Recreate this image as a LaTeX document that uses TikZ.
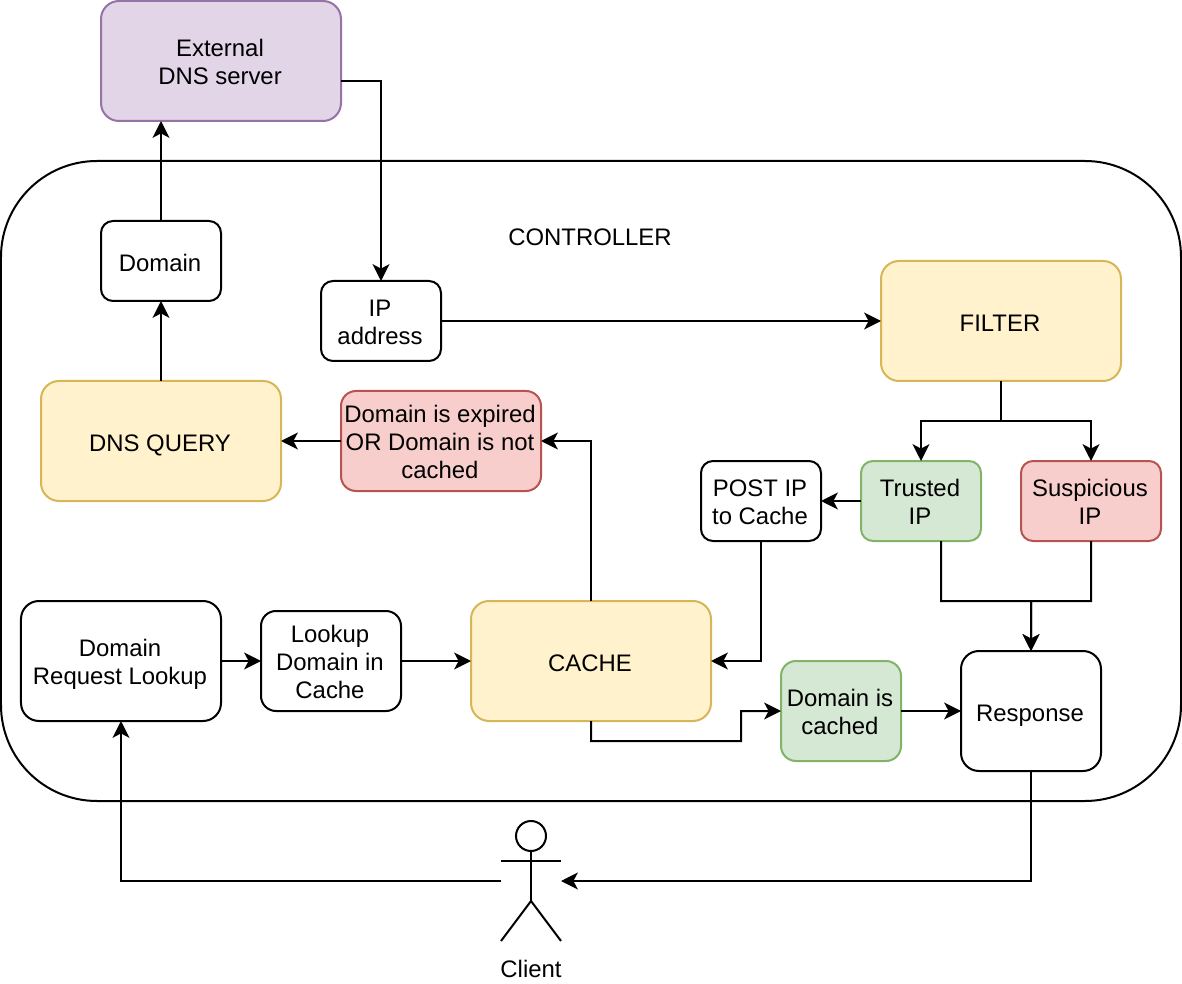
\documentclass[tikz,border=0pt]{standalone}
\usepackage{fontspec}
\setmainfont{Liberation Sans}
\usetikzlibrary{arrows.meta}
\definecolor{yfill}{HTML}{FFF2CC}
\definecolor{yline}{HTML}{D6B656}
\definecolor{gfill}{HTML}{D5E8D4}
\definecolor{gline}{HTML}{82B366}
\definecolor{rfill}{HTML}{F8CECC}
\definecolor{rline}{HTML}{B85450}
\definecolor{pfill}{HTML}{E1D5E7}
\definecolor{pline}{HTML}{9673A6}
\newcommand{\fstl}{\rule{0pt}{18.1pt}}
\tikzset{
    every node/.style={font=\fontsize{17}{19.9}\selectfont, align=center, inner sep=0pt, outer sep=0pt},
    every path/.style={line width=0.05cm},
    >={Stealth[length=0.42cm,width=0.42cm,inset=0.11cm]},
    txt/.style={execute at begin node={\rule{0pt}{18.8pt}}, execute at end node={\rule[-4pt]{0pt}{4pt}\kern0.05cm}},
    block/.style={draw, txt, minimum width=#1},
    block/.default=3cm,
    hsmall/.style={minimum height=2cm, rounded corners=0.3cm},
    hmid/.style={minimum height=2.5cm, rounded corners=0.375cm},
    hbig/.style={minimum height=3cm, rounded corners=0.45cm},
    plain/.style={block=#1, fill=white},
    plain/.default=3cm,
    yellow/.style={block=6cm, hbig, draw=yline, fill=yfill},
    green/.style={block=3cm, draw=gline, fill=gfill},
    red/.style={block=#1, draw=rline, fill=rfill},
    red/.default=3cm,
}

\begin{document}
\begin{tikzpicture}
    \useasboundingbox (0,0) rectangle (29.55,-24.6);

    \node[draw, minimum width=29.5cm, minimum height=16cm, rounded corners=2.4cm]
         (ctrl) at (14.775,-12.025) {};
    \node[txt] (ctrllbl) at (14.775,-5.875) {CONTROLLER};

    \node[block=6cm, hbig, draw=pline, fill=pfill]
         (ext) at (5.525,-1.525) {\fstl External\\DNS server};
    \node[plain, hsmall] (domain) at (4.025,-6.525) {Domain};
    \node[plain, hsmall] (ip) at (9.525,-8.025) {\fstl IP\\address};
    \node[yellow] (filter) at (25.025,-8.025) {FILTER};
    \node[yellow] (query) at (4.025,-11.025) {DNS QUERY};
    \node[red=5cm, hmid] (miss) at (11.025,-11.025)
         {\fstl Domain is expired\\OR Domain is not\\cached};
    \node[plain, hsmall] (post) at (19.025,-12.525) {\fstl POST IP\\to Cache};
    \node[green, hsmall] (trusted) at (23.025,-12.525) {\fstl Trusted\\IP};
    \node[red=3.5cm, hsmall] (susp) at (27.275,-12.525) {\fstl Suspicious\\IP};
    \node[plain=5cm, hbig] (lookup) at (3.025,-16.525) {\fstl Domain\\Request Lookup};
    \node[plain=3.5cm, hmid] (incache) at (8.275,-16.525) {\fstl Lookup\\Domain in\\Cache};
    \node[yellow] (cache) at (14.775,-16.525) {CACHE};
    \node[green, hmid] (cached) at (21.025,-17.775) {\fstl Domain is\\cached};
    \node[plain=3.5cm, hbig] (resp) at (25.775,-17.775) {Response};

    % client
    \node[draw, circle, minimum size=0.75cm] (head) at (13.275,-20.9) {};
    \coordinate (hip) at (13.275,-22.525);
    \coordinate (clientl) at (12.525,-22.025);
    \coordinate (clientr) at (14.025,-22.025);
    \draw (head.south) -- (hip);
    \draw (12.525,-21.525) -- (14.025,-21.525);
    \draw (12.525,-23.525) -- (hip) -- (14.025,-23.525);
    \node[txt] (client) at (13.3,-24.18) {Client};

    %edges
    \draw[->] (domain) -- (domain.north |- ext.south);
    \draw[->] (query) -- (domain);
    \draw[->] ([yshift=-0.5cm]ext.east) -| (ip.north);
    \draw[->] (ip) -- (filter);
    \draw[->] (filter.south) -- ++(0,-1) -| (trusted.north);
    \draw[->] (filter.south) -- ++(0,-1) -| (susp.north);
    \draw[->] (trusted) -- (post);
    \draw[->] (post.south) |- (cache.east);
    \draw[->] (cache.north) |- (miss.east);
    \draw[->] (miss) -- (query);
    \draw[->] (lookup) -- (incache);
    \draw[->] (incache) -- (cache);
    \draw[->] (cache.south) -- ++(0,-0.5) -| ++(3.75,0.75) -- (cached.west);
    \draw[->] (cached) -- (resp);
    \draw[->] ([xshift=0.5cm]trusted.south) |- ++(2.25,-1.5) -- (resp.north);
    \draw[->] (susp.south) |- ++(-1.5,-1.5) -- (resp.north);
    \draw[->] (clientl) -| (lookup.south);
    \draw[->] (resp.south) |- (clientr);
\end{tikzpicture}
\end{document}
